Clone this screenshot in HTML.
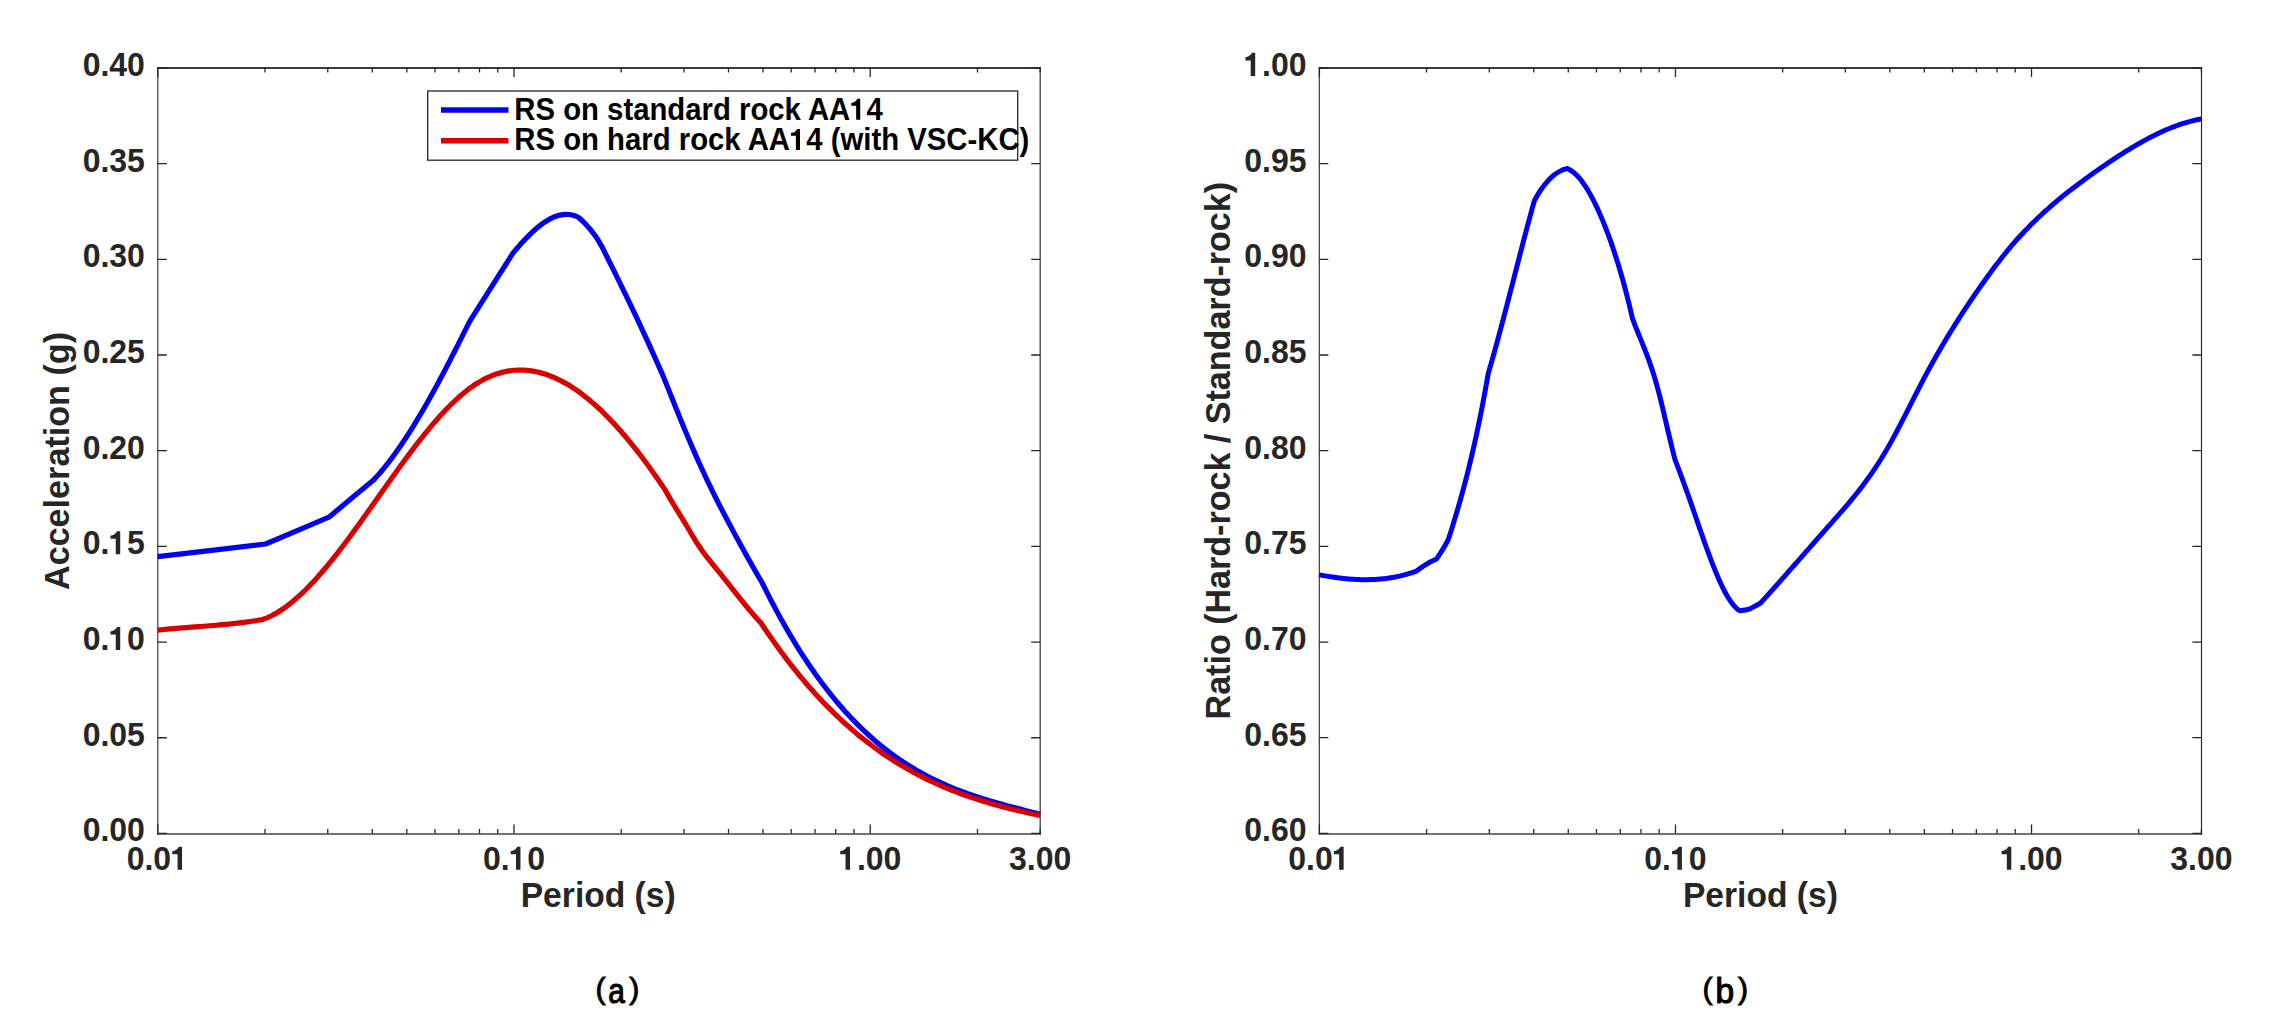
<!DOCTYPE html>
<html><head><meta charset="utf-8"><title>Response spectra</title><style>
html,body{margin:0;padding:0;background:#fff;overflow:hidden;}
svg{display:block;}
text{font-family:"Liberation Sans",sans-serif;}
.tk{font-weight:bold;font-size:33.4px;fill:#262626;}
.lb{font-weight:bold;font-size:35.5px;fill:#262626;}
.lg{font-weight:bold;font-size:30.6px;fill:#000;}
.cp{font-weight:normal;fill:#000;stroke:#000;}
</style></head><body>
<svg width="2274" height="1036" viewBox="0 0 2274 1036">
<rect width="2274" height="1036" fill="#fff"/>
<path d="M157.27,68H1040.78" stroke="#3a3a3a" stroke-width="1.8" fill="none"/>
<path d="M157.27,834H1040.78" stroke="#444" stroke-width="1.6" fill="none"/>
<path d="M157.82,67.1V834.67" stroke="#262626" stroke-width="1.1" fill="none"/>
<path d="M1040.18,67.1V834.67" stroke="#262626" stroke-width="1.15" fill="none"/>
<path d="M157.80,833.4v-9M157.80,68.0v9M265.03,833.4v-4.5M265.03,68.0v4.5M327.76,833.4v-4.5M327.76,68.0v4.5M372.27,833.4v-4.5M372.27,68.0v4.5M406.79,833.4v-4.5M406.79,68.0v4.5M434.99,833.4v-4.5M434.99,68.0v4.5M458.84,833.4v-4.5M458.84,68.0v4.5M479.50,833.4v-4.5M479.50,68.0v4.5M497.72,833.4v-4.5M497.72,68.0v4.5M514.02,833.4v-9M514.02,68.0v9M621.25,833.4v-4.5M621.25,68.0v4.5M683.98,833.4v-4.5M683.98,68.0v4.5M728.49,833.4v-4.5M728.49,68.0v4.5M763.01,833.4v-4.5M763.01,68.0v4.5M791.21,833.4v-4.5M791.21,68.0v4.5M815.06,833.4v-4.5M815.06,68.0v4.5M835.72,833.4v-4.5M835.72,68.0v4.5M853.94,833.4v-4.5M853.94,68.0v4.5M870.24,833.4v-9M870.24,68.0v9M977.47,833.4v-4.5M977.47,68.0v4.5M1040.20,833.4v-4.5M1040.20,68.0v4.5M157.8,833.40h9M1040.2,833.40h-9M157.8,737.73h9M1040.2,737.73h-9M157.8,642.05h9M1040.2,642.05h-9M157.8,546.38h9M1040.2,546.38h-9M157.8,450.70h9M1040.2,450.70h-9M157.8,355.02h9M1040.2,355.02h-9M157.8,259.35h9M1040.2,259.35h-9M157.8,163.67h9M1040.2,163.67h-9M157.8,68.00h9M1040.2,68.00h-9" stroke="#262626" stroke-width="1.3" fill="none"/>
<g transform="translate(144.90,841.30) scale(0.958,1)"><text class="tk" text-anchor="end">0.00</text></g>
<g transform="translate(144.90,745.62) scale(0.958,1)"><text class="tk" text-anchor="end">0.05</text></g>
<g transform="translate(144.90,649.95) scale(0.958,1)"><text class="tk" text-anchor="end">0. 0</text><path transform="translate(-37.15,0.00) scale(0.03340,-0.03340)" d="M201,0H341V690H240C222,640 165,578 35,552V462H201Z" fill="rgb(38, 38, 38)"/></g>
<g transform="translate(144.90,554.27) scale(0.958,1)"><text class="tk" text-anchor="end">0. 5</text><path transform="translate(-37.15,0.00) scale(0.03340,-0.03340)" d="M201,0H341V690H240C222,640 165,578 35,552V462H201Z" fill="rgb(38, 38, 38)"/></g>
<g transform="translate(144.90,458.60) scale(0.958,1)"><text class="tk" text-anchor="end">0.20</text></g>
<g transform="translate(144.90,362.92) scale(0.958,1)"><text class="tk" text-anchor="end">0.25</text></g>
<g transform="translate(144.90,267.25) scale(0.958,1)"><text class="tk" text-anchor="end">0.30</text></g>
<g transform="translate(144.90,171.57) scale(0.958,1)"><text class="tk" text-anchor="end">0.35</text></g>
<g transform="translate(144.90,75.90) scale(0.958,1)"><text class="tk" text-anchor="end">0.40</text></g>
<g transform="translate(157.80,869.80) scale(0.958,1)"><text class="tk" text-anchor="middle">0.0 </text><path transform="translate(13.91,0.00) scale(0.03340,-0.03340)" d="M201,0H341V690H240C222,640 165,578 35,552V462H201Z" fill="rgb(38, 38, 38)"/></g>
<g transform="translate(514.02,869.80) scale(0.958,1)"><text class="tk" text-anchor="middle">0. 0</text><path transform="translate(-4.66,0.00) scale(0.03340,-0.03340)" d="M201,0H341V690H240C222,640 165,578 35,552V462H201Z" fill="rgb(38, 38, 38)"/></g>
<g transform="translate(870.24,869.80) scale(0.958,1)"><text class="tk" text-anchor="middle"> .00</text><path transform="translate(-32.49,0.00) scale(0.03340,-0.03340)" d="M201,0H341V690H240C222,640 165,578 35,552V462H201Z" fill="rgb(38, 38, 38)"/></g>
<g transform="translate(1040.20,869.80) scale(0.958,1)"><text class="tk" text-anchor="middle">3.00</text></g>
<path d="M157.80,556.60C175.77,554.50 247.63,546.10 265.60,544.00C276.15,539.53 318.35,521.67 328.90,517.20C336.35,511.00 366.15,486.20 373.60,480.00C374.10,479.46 375.60,477.86 376.60,476.76C377.60,475.65 378.61,474.52 379.61,473.37C380.61,472.21 381.61,471.04 382.61,469.83C383.61,468.63 384.61,467.40 385.61,466.16C386.61,464.91 387.61,463.63 388.62,462.34C389.62,461.05 390.62,459.73 391.62,458.39C392.62,457.05 393.62,455.69 394.62,454.31C395.62,452.93 396.62,451.52 397.62,450.10C398.63,448.68 399.63,447.23 400.63,445.77C401.63,444.31 402.63,442.82 403.63,441.32C404.63,439.82 405.63,438.30 406.63,436.76C407.64,435.22 408.64,433.66 409.64,432.08C410.64,430.51 411.64,428.91 412.64,427.30C413.64,425.69 414.64,424.06 415.64,422.42C416.64,420.77 417.65,419.11 418.65,417.43C419.65,415.75 420.65,414.06 421.65,412.35C422.65,410.64 423.65,408.92 424.65,407.18C425.65,405.44 426.66,403.69 427.66,401.92C428.66,400.16 429.66,398.37 430.66,396.58C431.66,394.79 432.66,392.98 433.66,391.16C434.66,389.34 435.66,387.50 436.67,385.66C437.67,383.82 438.67,381.96 439.67,380.09C440.67,378.22 441.67,376.34 442.67,374.45C443.67,372.56 444.67,370.66 445.68,368.75C446.68,366.84 447.68,364.92 448.68,362.99C449.68,361.06 450.68,359.12 451.68,357.17C452.68,355.22 453.68,353.27 454.68,351.30C455.69,349.34 456.69,347.36 457.69,345.38C458.69,343.40 459.69,341.41 460.69,339.42C461.69,337.42 462.69,335.42 463.69,333.41C464.69,331.41 465.70,329.39 466.70,327.37C467.70,325.35 469.20,322.31 469.70,321.30C476.97,309.85 506.03,264.05 513.30,252.60C513.82,252.00 515.37,250.19 516.40,249.01C517.44,247.83 518.47,246.65 519.51,245.50C520.54,244.35 521.58,243.21 522.61,242.09C523.65,240.97 524.68,239.87 525.72,238.79C526.75,237.71 527.79,236.66 528.82,235.63C529.86,234.60 530.89,233.59 531.93,232.61C532.96,231.64 534.00,230.68 535.03,229.77C536.07,228.85 537.10,227.96 538.14,227.10C539.17,226.25 540.21,225.43 541.24,224.65C542.28,223.86 543.31,223.11 544.35,222.41C545.38,221.70 546.42,221.03 547.45,220.41C548.49,219.78 549.52,219.20 550.56,218.66C551.59,218.12 552.63,217.63 553.66,217.19C554.70,216.74 555.73,216.35 556.77,216.00C557.80,215.66 558.84,215.36 559.87,215.13C560.91,214.89 561.94,214.70 562.98,214.57C564.01,214.45 565.05,214.37 566.08,214.37C567.12,214.36 568.15,214.40 569.19,214.52C570.22,214.63 571.26,214.80 572.29,215.04C573.33,215.29 574.36,215.59 575.40,215.97C576.43,216.34 577.98,217.08 578.50,217.30C579.06,217.83 580.76,219.38 581.89,220.46C583.01,221.55 584.14,222.65 585.27,223.81C586.40,224.98 587.53,226.18 588.66,227.46C589.79,228.75 590.91,230.08 592.04,231.52C593.17,232.96 594.30,234.46 595.43,236.09C596.56,237.72 597.69,239.43 598.81,241.28C599.94,243.13 601.64,246.21 602.20,247.20C602.71,248.22 604.24,251.29 605.27,253.33C606.29,255.38 607.31,257.43 608.33,259.49C609.35,261.54 610.37,263.60 611.39,265.66C612.42,267.72 613.44,269.79 614.46,271.86C615.48,273.93 616.50,276.01 617.53,278.09C618.55,280.17 619.57,282.25 620.59,284.35C621.61,286.44 622.63,288.54 623.65,290.64C624.68,292.74 625.70,294.85 626.72,296.97C627.74,299.09 628.76,301.21 629.79,303.34C630.81,305.47 631.83,307.61 632.85,309.75C633.87,311.90 634.89,314.05 635.91,316.21C636.94,318.37 637.96,320.54 638.98,322.72C640.00,324.90 641.02,327.08 642.05,329.28C643.07,331.47 644.09,333.68 645.11,335.89C646.13,338.11 647.15,340.33 648.17,342.56C649.20,344.80 650.22,347.04 651.24,349.30C652.26,351.55 653.28,353.82 654.31,356.09C655.33,358.37 656.35,360.66 657.37,362.96C658.39,365.26 659.41,367.57 660.43,369.89C661.46,372.22 662.99,375.73 663.50,376.90C664.01,378.19 665.56,382.06 666.59,384.64C667.62,387.22 668.65,389.80 669.67,392.37C670.70,394.95 671.73,397.52 672.76,400.08C673.79,402.64 674.82,405.20 675.85,407.75C676.88,410.30 677.91,412.84 678.94,415.36C679.97,417.89 681.00,420.41 682.02,422.91C683.05,425.41 684.08,427.90 685.11,430.37C686.14,432.84 687.17,435.30 688.20,437.74C689.23,440.17 690.26,442.59 691.29,444.99C692.32,447.39 693.35,449.77 694.38,452.12C695.40,454.48 696.43,456.81 697.46,459.12C698.49,461.43 699.52,463.72 700.55,465.98C701.58,468.24 702.61,470.48 703.64,472.69C704.67,474.91 705.70,477.10 706.73,479.27C707.75,481.44 708.78,483.58 709.81,485.71C710.84,487.83 711.87,489.93 712.90,492.02C713.93,494.11 714.96,496.17 715.99,498.22C717.02,500.27 718.05,502.30 719.07,504.32C720.10,506.34 721.13,508.34 722.16,510.32C723.19,512.31 724.22,514.28 725.25,516.25C726.28,518.21 727.31,520.16 728.34,522.09C729.37,524.03 730.40,525.96 731.42,527.88C732.45,529.80 733.48,531.71 734.51,533.61C735.54,535.52 736.57,537.41 737.60,539.30C738.63,541.19 739.66,543.08 740.69,544.95C741.72,546.83 742.75,548.70 743.77,550.56C744.80,552.42 745.83,554.27 746.86,556.12C747.89,557.96 748.92,559.79 749.95,561.62C750.98,563.44 752.01,565.26 753.04,567.07C754.07,568.87 755.10,570.67 756.12,572.45C757.15,574.23 758.18,576.00 759.21,577.76C760.24,579.52 761.79,582.13 762.30,583.00C762.80,584.02 764.31,587.09 765.32,589.11C766.33,591.13 767.33,593.13 768.34,595.11C769.35,597.08 770.36,599.04 771.36,600.98C772.37,602.92 773.38,604.84 774.38,606.74C775.39,608.64 776.40,610.52 777.40,612.39C778.41,614.25 779.42,616.09 780.42,617.92C781.43,619.74 782.44,621.54 783.44,623.33C784.45,625.12 785.46,626.89 786.47,628.63C787.47,630.38 788.48,632.11 789.49,633.83C790.49,635.54 791.50,637.23 792.51,638.91C793.51,640.59 794.52,642.25 795.53,643.89C796.53,645.53 797.54,647.15 798.55,648.76C799.55,650.36 800.56,651.95 801.57,653.52C802.58,655.09 803.58,656.64 804.59,658.18C805.60,659.72 806.60,661.23 807.61,662.74C808.62,664.24 809.62,665.72 810.63,667.19C811.64,668.66 812.64,670.11 813.65,671.55C814.66,672.99 815.66,674.40 816.67,675.81C817.68,677.21 818.69,678.60 819.69,679.97C820.70,681.34 821.71,682.70 822.71,684.04C823.72,685.37 824.73,686.70 825.73,688.01C826.74,689.31 827.75,690.61 828.75,691.89C829.76,693.16 830.77,694.42 831.77,695.67C832.78,696.92 833.79,698.15 834.80,699.37C835.80,700.59 836.81,701.79 837.82,702.98C838.82,704.17 839.83,705.34 840.84,706.50C841.84,707.66 842.85,708.80 843.86,709.93C844.86,711.06 845.87,712.18 846.88,713.28C847.89,714.39 848.89,715.47 849.90,716.55C850.91,717.62 851.91,718.69 852.92,719.73C853.93,720.78 854.93,721.82 855.94,722.84C856.95,723.86 857.95,724.87 858.96,725.86C859.97,726.86 860.97,727.84 861.98,728.81C862.99,729.78 864.00,730.74 865.00,731.68C866.01,732.63 867.02,733.56 868.02,734.48C869.03,735.40 870.04,736.30 871.04,737.20C872.05,738.10 873.06,738.98 874.06,739.85C875.07,740.72 876.08,741.58 877.08,742.43C878.09,743.28 879.10,744.11 880.11,744.94C881.11,745.76 882.12,746.58 883.13,747.38C884.13,748.18 885.14,748.97 886.15,749.75C887.15,750.53 888.16,751.30 889.17,752.06C890.17,752.82 891.18,753.57 892.19,754.31C893.19,755.04 894.20,755.77 895.21,756.49C896.22,757.21 897.22,757.91 898.23,758.61C899.24,759.31 900.24,759.99 901.25,760.67C902.26,761.35 903.26,762.01 904.27,762.67C905.28,763.33 906.28,763.98 907.29,764.62C908.30,765.25 909.31,765.88 910.31,766.50C911.32,767.13 912.33,767.74 913.33,768.34C914.34,768.94 915.35,769.53 916.35,770.12C917.36,770.71 918.37,771.28 919.37,771.85C920.38,772.42 921.39,772.98 922.39,773.53C923.40,774.08 924.41,774.62 925.42,775.16C926.42,775.69 927.43,776.22 928.44,776.74C929.44,777.26 930.45,777.77 931.46,778.28C932.46,778.78 933.47,779.28 934.48,779.77C935.48,780.26 936.49,780.74 937.50,781.22C938.50,781.69 939.51,782.16 940.52,782.62C941.53,783.08 942.53,783.54 943.54,783.99C944.55,784.43 945.55,784.87 946.56,785.31C947.57,785.75 948.57,786.17 949.58,786.60C950.59,787.02 951.59,787.44 952.60,787.85C953.61,788.26 954.61,788.66 955.62,789.06C956.63,789.46 957.64,789.86 958.64,790.24C959.65,790.63 960.66,791.01 961.66,791.39C962.67,791.77 963.68,792.14 964.68,792.51C965.69,792.88 966.70,793.24 967.70,793.60C968.71,793.95 969.72,794.31 970.73,794.66C971.73,795.00 972.74,795.35 973.75,795.69C974.75,796.03 975.76,796.36 976.77,796.69C977.77,797.03 978.78,797.35 979.79,797.68C980.79,798.00 981.80,798.32 982.81,798.63C983.81,798.95 984.82,799.26 985.83,799.57C986.84,799.88 987.84,800.19 988.85,800.49C989.86,800.79 990.86,801.09 991.87,801.39C992.88,801.68 993.88,801.98 994.89,802.27C995.90,802.56 996.90,802.85 997.91,803.13C998.92,803.42 999.92,803.70 1000.93,803.98C1001.94,804.26 1002.95,804.54 1003.95,804.82C1004.96,805.09 1005.97,805.37 1006.97,805.64C1007.98,805.91 1008.99,806.19 1009.99,806.45C1011.00,806.72 1012.01,806.99 1013.01,807.26C1014.02,807.53 1015.03,807.79 1016.03,808.06C1017.04,808.32 1018.05,808.58 1019.06,808.85C1020.06,809.11 1021.07,809.37 1022.08,809.63C1023.08,809.89 1024.09,810.15 1025.10,810.41C1026.10,810.67 1027.11,810.93 1028.12,811.19C1029.12,811.45 1030.13,811.71 1031.14,811.97C1032.14,812.23 1033.15,812.48 1034.16,812.74C1035.17,813.00 1036.17,813.26 1037.18,813.52C1038.19,813.78 1039.70,814.17 1040.20,814.30" fill="none" stroke="#0000f5" stroke-width="5.2" stroke-linejoin="round"/>
<path d="M157.80,630.10C158.31,630.05 159.85,629.89 160.88,629.79C161.91,629.68 162.94,629.58 163.96,629.49C164.99,629.39 166.02,629.29 167.05,629.20C168.07,629.10 169.10,629.01 170.13,628.92C171.16,628.83 172.18,628.74 173.21,628.65C174.24,628.56 175.27,628.48 176.29,628.39C177.32,628.31 178.35,628.22 179.38,628.14C180.40,628.06 181.43,627.98 182.46,627.90C183.49,627.81 184.51,627.73 185.54,627.65C186.57,627.57 187.60,627.50 188.62,627.42C189.65,627.34 190.68,627.26 191.71,627.18C192.73,627.10 193.76,627.02 194.79,626.95C195.82,626.87 196.84,626.79 197.87,626.71C198.90,626.63 199.93,626.55 200.95,626.48C201.98,626.40 203.01,626.32 204.04,626.24C205.06,626.16 206.09,626.08 207.12,625.99C208.15,625.91 209.17,625.83 210.20,625.74C211.23,625.66 212.25,625.58 213.28,625.49C214.31,625.40 215.34,625.32 216.36,625.23C217.39,625.14 218.42,625.05 219.45,624.96C220.47,624.86 221.50,624.77 222.53,624.67C223.56,624.58 224.58,624.48 225.61,624.38C226.64,624.28 227.67,624.18 228.69,624.07C229.72,623.97 230.75,623.86 231.78,623.75C232.80,623.64 233.83,623.53 234.86,623.42C235.89,623.30 236.91,623.18 237.94,623.06C238.97,622.94 240.00,622.82 241.02,622.69C242.05,622.57 243.08,622.44 244.11,622.30C245.13,622.17 246.16,622.04 247.19,621.90C248.22,621.76 249.24,621.61 250.27,621.46C251.30,621.32 252.33,621.17 253.35,621.01C254.38,620.85 255.41,620.70 256.44,620.53C257.46,620.37 258.49,620.20 259.52,620.03C260.55,619.86 262.09,619.59 262.60,619.50C263.10,619.32 264.60,618.82 265.60,618.43C266.60,618.04 267.61,617.61 268.61,617.16C269.61,616.71 270.61,616.23 271.61,615.73C272.61,615.23 273.61,614.70 274.61,614.14C275.62,613.59 276.62,613.01 277.62,612.41C278.62,611.80 279.62,611.18 280.62,610.53C281.62,609.88 282.62,609.20 283.63,608.50C284.63,607.81 285.63,607.08 286.63,606.34C287.63,605.60 288.63,604.83 289.63,604.05C290.63,603.26 291.64,602.45 292.64,601.63C293.64,600.80 294.64,599.95 295.64,599.08C296.64,598.21 297.64,597.32 298.64,596.41C299.65,595.50 300.65,594.58 301.65,593.63C302.65,592.68 303.65,591.72 304.65,590.74C305.65,589.75 306.65,588.75 307.66,587.74C308.66,586.72 309.66,585.68 310.66,584.63C311.66,583.58 312.66,582.52 313.66,581.43C314.66,580.35 315.67,579.25 316.67,578.14C317.67,577.03 318.67,575.90 319.67,574.75C320.67,573.61 321.67,572.46 322.67,571.29C323.68,570.12 324.68,568.93 325.68,567.74C326.68,566.54 327.68,565.33 328.68,564.11C329.68,562.89 330.68,561.66 331.69,560.41C332.69,559.17 333.69,557.91 334.69,556.65C335.69,555.38 336.69,554.11 337.69,552.82C338.69,551.54 339.70,550.24 340.70,548.93C341.70,547.63 342.70,546.32 343.70,544.99C344.70,543.67 345.70,542.34 346.70,541.00C347.71,539.66 348.71,538.32 349.71,536.97C350.71,535.61 351.71,534.25 352.71,532.89C353.71,531.52 354.71,530.15 355.72,528.77C356.72,527.40 357.72,526.01 358.72,524.63C359.72,523.24 360.72,521.85 361.72,520.45C362.72,519.05 363.73,517.65 364.73,516.25C365.73,514.85 366.73,513.44 367.73,512.03C368.73,510.62 369.73,509.21 370.73,507.80C371.74,506.38 372.74,504.97 373.74,503.55C374.74,502.14 375.74,500.72 376.74,499.30C377.74,497.88 378.74,496.47 379.75,495.05C380.75,493.63 381.75,492.21 382.75,490.80C383.75,489.38 384.75,487.97 385.75,486.55C386.75,485.14 387.76,483.73 388.76,482.32C389.76,480.91 390.76,479.51 391.76,478.10C392.76,476.70 393.76,475.30 394.76,473.91C395.77,472.51 396.77,471.12 397.77,469.73C398.77,468.35 399.77,466.96 400.77,465.59C401.77,464.21 402.77,462.84 403.78,461.48C404.78,460.11 405.78,458.75 406.78,457.40C407.78,456.05 408.78,454.71 409.78,453.37C410.78,452.03 411.79,450.70 412.79,449.38C413.79,448.06 414.79,446.75 415.79,445.45C416.79,444.14 417.79,442.85 418.79,441.57C419.80,440.28 420.80,439.01 421.80,437.74C422.80,436.48 423.80,435.23 424.80,433.99C425.80,432.74 426.80,431.51 427.81,430.30C428.81,429.08 429.81,427.87 430.81,426.68C431.81,425.48 432.81,424.30 433.81,423.14C434.81,421.97 435.82,420.81 436.82,419.67C437.82,418.54 438.82,417.41 439.82,416.30C440.82,415.19 441.82,414.09 442.82,413.01C443.83,411.93 444.83,410.87 445.83,409.82C446.83,408.78 447.83,407.74 448.83,406.73C449.83,405.72 450.83,404.72 451.84,403.74C452.84,402.76 453.84,401.80 454.84,400.86C455.84,399.91 456.84,398.99 457.84,398.09C458.84,397.18 459.85,396.30 460.85,395.43C461.85,394.56 462.85,393.72 463.85,392.90C464.85,392.07 465.85,391.27 466.85,390.48C467.85,389.70 468.86,388.94 469.86,388.20C470.86,387.47 471.86,386.75 472.86,386.06C473.86,385.36 474.86,384.69 475.86,384.05C476.87,383.40 477.87,382.78 478.87,382.18C479.87,381.58 480.87,381.00 481.87,380.44C482.87,379.89 483.87,379.36 484.88,378.85C485.88,378.34 486.88,377.86 487.88,377.39C488.88,376.93 489.88,376.49 490.88,376.07C491.88,375.65 492.89,375.26 493.89,374.89C494.89,374.51 495.89,374.16 496.89,373.83C497.89,373.50 498.89,373.19 499.89,372.91C500.90,372.62 501.90,372.36 502.90,372.12C503.90,371.87 504.90,371.65 505.90,371.45C506.90,371.25 507.90,371.08 508.91,370.92C509.91,370.76 510.91,370.63 511.91,370.51C512.91,370.40 513.91,370.30 514.91,370.23C515.91,370.16 516.92,370.11 517.92,370.07C518.92,370.04 519.92,370.03 520.92,370.04C521.92,370.05 522.92,370.08 523.92,370.13C524.93,370.18 525.93,370.25 526.93,370.34C527.93,370.43 528.93,370.54 529.93,370.67C530.93,370.80 531.93,370.95 532.94,371.11C533.94,371.28 534.94,371.47 535.94,371.68C536.94,371.89 537.94,372.11 538.94,372.36C539.94,372.61 540.95,372.87 541.95,373.16C542.95,373.44 543.95,373.74 544.95,374.07C545.95,374.39 546.95,374.73 547.95,375.09C548.96,375.45 549.96,375.83 550.96,376.22C551.96,376.62 552.96,377.03 553.96,377.47C554.96,377.90 555.96,378.35 556.97,378.82C557.97,379.29 558.97,379.78 559.97,380.28C560.97,380.78 561.97,381.31 562.97,381.85C563.97,382.39 564.98,382.94 565.98,383.52C566.98,384.09 567.98,384.69 568.98,385.30C569.98,385.90 570.98,386.53 571.98,387.17C572.99,387.82 573.99,388.48 574.99,389.16C575.99,389.83 576.99,390.53 577.99,391.24C578.99,391.95 579.99,392.67 581.00,393.42C582.00,394.16 583.00,394.92 584.00,395.70C585.00,396.47 586.00,397.26 587.00,398.07C588.00,398.88 589.01,399.70 590.01,400.54C591.01,401.38 592.01,402.24 593.01,403.11C594.01,403.98 595.01,404.87 596.01,405.77C597.02,406.67 598.02,407.59 599.02,408.52C600.02,409.45 601.02,410.40 602.02,411.36C603.02,412.33 604.02,413.30 605.03,414.30C606.03,415.29 607.03,416.29 608.03,417.32C609.03,418.34 610.03,419.37 611.03,420.42C612.03,421.47 613.04,422.54 614.04,423.62C615.04,424.70 616.04,425.79 617.04,426.90C618.04,428.00 619.04,429.12 620.04,430.26C621.05,431.39 622.05,432.54 623.05,433.70C624.05,434.86 625.05,436.04 626.05,437.23C627.05,438.42 628.05,439.62 629.06,440.84C630.06,442.05 631.06,443.28 632.06,444.52C633.06,445.76 634.06,447.02 635.06,448.28C636.06,449.55 637.07,450.83 638.07,452.12C639.07,453.41 640.07,454.72 641.07,456.04C642.07,457.35 643.07,458.68 644.07,460.03C645.08,461.37 646.08,462.72 647.08,464.09C648.08,465.45 649.08,466.83 650.08,468.22C651.08,469.61 652.08,471.01 653.09,472.42C654.09,473.84 655.09,475.26 656.09,476.70C657.09,478.13 658.09,479.58 659.09,481.04C660.09,482.49 661.10,483.97 662.10,485.44C663.10,486.92 664.60,489.16 665.10,489.90C665.62,490.82 667.16,493.60 668.19,495.39C669.22,497.18 670.26,498.93 671.29,500.66C672.32,502.38 673.35,504.07 674.38,505.76C675.41,507.45 676.44,509.11 677.47,510.78C678.51,512.45 679.54,514.10 680.57,515.77C681.60,517.45 682.63,519.12 683.66,520.82C684.69,522.53 685.72,524.25 686.75,525.99C687.79,527.72 688.82,529.49 689.85,531.24C690.88,532.99 691.91,534.76 692.94,536.48C693.97,538.19 695.00,539.91 696.04,541.55C697.07,543.19 698.10,544.77 699.13,546.30C700.16,547.84 701.19,549.31 702.22,550.75C703.25,552.20 704.28,553.59 705.32,554.96C706.35,556.33 707.38,557.65 708.41,558.97C709.44,560.28 710.47,561.57 711.50,562.84C712.53,564.12 713.57,565.38 714.60,566.64C715.63,567.90 716.66,569.15 717.69,570.41C718.72,571.67 719.75,572.93 720.78,574.20C721.82,575.48 722.85,576.77 723.88,578.06C724.91,579.35 725.94,580.65 726.97,581.95C728.00,583.25 729.03,584.56 730.06,585.87C731.10,587.17 732.13,588.49 733.16,589.79C734.19,591.10 735.22,592.41 736.25,593.71C737.28,595.02 738.31,596.32 739.35,597.61C740.38,598.91 741.41,600.20 742.44,601.48C743.47,602.75 744.50,604.03 745.53,605.29C746.56,606.54 747.59,607.79 748.63,609.03C749.66,610.26 750.69,611.48 751.72,612.68C752.75,613.89 753.78,615.08 754.81,616.24C755.84,617.41 756.88,618.56 757.91,619.69C758.94,620.81 760.48,622.45 761.00,623.00C761.50,623.75 763.00,626.01 764.00,627.50C765.00,628.99 766.00,630.48 767.00,631.95C768.01,633.42 769.01,634.87 770.01,636.32C771.01,637.76 772.01,639.20 773.01,640.62C774.01,642.04 775.01,643.44 776.01,644.84C777.01,646.24 778.01,647.62 779.01,648.99C780.01,650.36 781.01,651.72 782.02,653.07C783.02,654.42 784.02,655.76 785.02,657.08C786.02,658.41 787.02,659.72 788.02,661.02C789.02,662.32 790.02,663.61 791.02,664.89C792.02,666.17 793.02,667.43 794.02,668.69C795.02,669.95 796.03,671.19 797.03,672.42C798.03,673.66 799.03,674.88 800.03,676.09C801.03,677.30 802.03,678.50 803.03,679.69C804.03,680.87 805.03,682.05 806.03,683.22C807.03,684.39 808.03,685.54 809.03,686.69C810.04,687.83 811.04,688.97 812.04,690.09C813.04,691.21 814.04,692.33 815.04,693.43C816.04,694.53 817.04,695.63 818.04,696.71C819.04,697.79 820.04,698.86 821.04,699.92C822.04,700.98 823.04,702.03 824.05,703.07C825.05,704.12 826.05,705.15 827.05,706.17C828.05,707.19 829.05,708.20 830.05,709.20C831.05,710.20 832.05,711.19 833.05,712.17C834.05,713.15 835.05,714.13 836.05,715.09C837.05,716.05 838.06,717.00 839.06,717.94C840.06,718.89 841.06,719.82 842.06,720.74C843.06,721.67 844.06,722.58 845.06,723.49C846.06,724.39 847.06,725.29 848.06,726.17C849.06,727.06 850.06,727.94 851.06,728.81C852.07,729.67 853.07,730.53 854.07,731.38C855.07,732.23 856.07,733.08 857.07,733.91C858.07,734.74 859.07,735.56 860.07,736.38C861.07,737.20 862.07,738.00 863.07,738.80C864.07,739.60 865.07,740.39 866.08,741.17C867.08,741.95 868.08,742.72 869.08,743.49C870.08,744.25 871.08,745.01 872.08,745.75C873.08,746.50 874.08,747.24 875.08,747.97C876.08,748.70 877.08,749.43 878.08,750.14C879.08,750.86 880.09,751.57 881.09,752.26C882.09,752.96 883.09,753.66 884.09,754.34C885.09,755.02 886.09,755.70 887.09,756.37C888.09,757.04 889.09,757.70 890.09,758.35C891.09,759.01 892.09,759.65 893.09,760.29C894.10,760.93 895.10,761.56 896.10,762.19C897.10,762.81 898.10,763.43 899.10,764.04C900.10,764.65 901.10,765.25 902.10,765.85C903.10,766.44 904.10,767.03 905.10,767.61C906.10,768.20 907.10,768.77 908.11,769.34C909.11,769.91 910.11,770.47 911.11,771.03C912.11,771.58 913.11,772.13 914.11,772.67C915.11,773.21 916.11,773.75 917.11,774.28C918.11,774.81 919.11,775.33 920.11,775.85C921.11,776.36 922.12,776.87 923.12,777.38C924.12,777.88 925.12,778.38 926.12,778.87C927.12,779.36 928.12,779.85 929.12,780.33C930.12,780.81 931.12,781.28 932.12,781.75C933.12,782.22 934.12,782.68 935.12,783.14C936.13,783.59 937.13,784.05 938.13,784.49C939.13,784.94 940.13,785.38 941.13,785.81C942.13,786.25 943.13,786.68 944.13,787.10C945.13,787.52 946.13,787.94 947.13,788.36C948.13,788.77 949.13,789.18 950.14,789.58C951.14,789.98 952.14,790.38 953.14,790.78C954.14,791.17 955.14,791.56 956.14,791.94C957.14,792.32 958.14,792.70 959.14,793.08C960.14,793.45 961.14,793.82 962.14,794.19C963.14,794.55 964.15,794.91 965.15,795.27C966.15,795.62 967.15,795.97 968.15,796.32C969.15,796.67 970.15,797.01 971.15,797.35C972.15,797.69 973.15,798.02 974.15,798.35C975.15,798.68 976.15,799.01 977.15,799.33C978.16,799.65 979.16,799.97 980.16,800.29C981.16,800.60 982.16,800.91 983.16,801.22C984.16,801.52 985.16,801.83 986.16,802.13C987.16,802.43 988.16,802.72 989.16,803.01C990.16,803.31 991.16,803.59 992.17,803.88C993.17,804.17 994.17,804.45 995.17,804.73C996.17,805.01 997.17,805.28 998.17,805.55C999.17,805.83 1000.17,806.10 1001.17,806.36C1002.17,806.63 1003.17,806.89 1004.17,807.15C1005.17,807.41 1006.18,807.67 1007.18,807.93C1008.18,808.18 1009.18,808.43 1010.18,808.68C1011.18,808.93 1012.18,809.18 1013.18,809.42C1014.18,809.67 1015.18,809.91 1016.18,810.15C1017.18,810.39 1018.18,810.63 1019.18,810.86C1020.19,811.10 1021.19,811.33 1022.19,811.56C1023.19,811.79 1024.19,812.02 1025.19,812.24C1026.19,812.47 1027.19,812.69 1028.19,812.92C1029.19,813.14 1030.19,813.36 1031.19,813.58C1032.19,813.80 1033.19,814.01 1034.20,814.23C1035.20,814.44 1036.20,814.66 1037.20,814.87C1038.20,815.08 1039.70,815.39 1040.20,815.50" fill="none" stroke="#d90000" stroke-width="5.2" stroke-linejoin="round"/>
<rect x="427.7" y="91" width="590" height="69.2" fill="#fff" stroke="#262626" stroke-width="1.3"/>
<path d="M441,110h67.5" stroke="#0000f5" stroke-width="5.6"/>
<path d="M441,140.8h67.5" stroke="#d90000" stroke-width="5.6"/>
<g transform="translate(514.30,119.80) scale(0.958,1)"><text class="lg" text-anchor="start">RS on standard rock AA 4</text><path transform="translate(350.69,0.00) scale(0.03060,-0.03060)" d="M201,0H341V690H240C222,640 165,578 35,552V462H201Z" fill="rgb(0, 0, 0)"/></g>
<g transform="translate(514.30,150.00) scale(0.958,1)"><text class="lg" text-anchor="start">RS on hard rock AA 4 (with VSC-KC)</text><path transform="translate(287.79,0.00) scale(0.03060,-0.03060)" d="M201,0H341V690H240C222,640 165,578 35,552V462H201Z" fill="rgb(0, 0, 0)"/></g>
<g transform="translate(598.20,906.60) scale(0.947,1)"><text class="lb" text-anchor="middle">Period (s)</text></g>
<g transform="translate(68.80,461.00) rotate(-90) scale(0.962,1)"><text class="lb" text-anchor="middle">Acceleration (g)</text></g>
<path d="M1318.75,68H2202.10" stroke="#3a3a3a" stroke-width="1.8" fill="none"/>
<path d="M1318.75,834H2202.10" stroke="#444" stroke-width="1.6" fill="none"/>
<path d="M1319.30,67.1V834.67" stroke="#262626" stroke-width="1.1" fill="none"/>
<path d="M2201.50,67.1V834.67" stroke="#262626" stroke-width="1.15" fill="none"/>
<path d="M1319.40,833.4v-9M1319.40,68.0v9M1426.58,833.4v-4.5M1426.58,68.0v4.5M1489.28,833.4v-4.5M1489.28,68.0v4.5M1533.77,833.4v-4.5M1533.77,68.0v4.5M1568.27,833.4v-4.5M1568.27,68.0v4.5M1596.47,833.4v-4.5M1596.47,68.0v4.5M1620.30,833.4v-4.5M1620.30,68.0v4.5M1640.95,833.4v-4.5M1640.95,68.0v4.5M1659.17,833.4v-4.5M1659.17,68.0v4.5M1675.46,833.4v-9M1675.46,68.0v9M1782.64,833.4v-4.5M1782.64,68.0v4.5M1845.34,833.4v-4.5M1845.34,68.0v4.5M1889.83,833.4v-4.5M1889.83,68.0v4.5M1924.33,833.4v-4.5M1924.33,68.0v4.5M1952.53,833.4v-4.5M1952.53,68.0v4.5M1976.36,833.4v-4.5M1976.36,68.0v4.5M1997.01,833.4v-4.5M1997.01,68.0v4.5M2015.22,833.4v-4.5M2015.22,68.0v4.5M2031.52,833.4v-9M2031.52,68.0v9M2138.70,833.4v-4.5M2138.70,68.0v4.5M2201.40,833.4v-4.5M2201.40,68.0v4.5M1319.4,833.40h9M2201.4,833.40h-9M1319.4,737.72h9M2201.4,737.72h-9M1319.4,642.05h9M2201.4,642.05h-9M1319.4,546.38h9M2201.4,546.38h-9M1319.4,450.70h9M2201.4,450.70h-9M1319.4,355.02h9M2201.4,355.02h-9M1319.4,259.35h9M2201.4,259.35h-9M1319.4,163.68h9M2201.4,163.68h-9M1319.4,68.00h9M2201.4,68.00h-9" stroke="#262626" stroke-width="1.3" fill="none"/>
<g transform="translate(1306.50,841.30) scale(0.958,1)"><text class="tk" text-anchor="end">0.60</text></g>
<g transform="translate(1306.50,745.62) scale(0.958,1)"><text class="tk" text-anchor="end">0.65</text></g>
<g transform="translate(1306.50,649.95) scale(0.958,1)"><text class="tk" text-anchor="end">0.70</text></g>
<g transform="translate(1306.50,554.27) scale(0.958,1)"><text class="tk" text-anchor="end">0.75</text></g>
<g transform="translate(1306.50,458.60) scale(0.958,1)"><text class="tk" text-anchor="end">0.80</text></g>
<g transform="translate(1306.50,362.92) scale(0.958,1)"><text class="tk" text-anchor="end">0.85</text></g>
<g transform="translate(1306.50,267.25) scale(0.958,1)"><text class="tk" text-anchor="end">0.90</text></g>
<g transform="translate(1306.50,171.58) scale(0.958,1)"><text class="tk" text-anchor="end">0.95</text></g>
<g transform="translate(1306.50,75.90) scale(0.958,1)"><text class="tk" text-anchor="end"> .00</text><path transform="translate(-64.97,0.00) scale(0.03340,-0.03340)" d="M201,0H341V690H240C222,640 165,578 35,552V462H201Z" fill="rgb(38, 38, 38)"/></g>
<g transform="translate(1319.40,869.80) scale(0.958,1)"><text class="tk" text-anchor="middle">0.0 </text><path transform="translate(13.91,0.00) scale(0.03340,-0.03340)" d="M201,0H341V690H240C222,640 165,578 35,552V462H201Z" fill="rgb(38, 38, 38)"/></g>
<g transform="translate(1675.46,869.80) scale(0.958,1)"><text class="tk" text-anchor="middle">0. 0</text><path transform="translate(-4.66,0.00) scale(0.03340,-0.03340)" d="M201,0H341V690H240C222,640 165,578 35,552V462H201Z" fill="rgb(38, 38, 38)"/></g>
<g transform="translate(2031.52,869.80) scale(0.958,1)"><text class="tk" text-anchor="middle"> .00</text><path transform="translate(-32.49,0.00) scale(0.03340,-0.03340)" d="M201,0H341V690H240C222,640 165,578 35,552V462H201Z" fill="rgb(38, 38, 38)"/></g>
<g transform="translate(2201.40,869.80) scale(0.958,1)"><text class="tk" text-anchor="middle">3.00</text></g>
<path d="M1319.10,574.80C1319.61,574.89 1321.13,575.17 1322.15,575.35C1323.16,575.53 1324.18,575.71 1325.19,575.88C1326.21,576.05 1327.22,576.22 1328.24,576.38C1329.26,576.54 1330.27,576.70 1331.29,576.85C1332.30,577.00 1333.32,577.15 1334.33,577.29C1335.35,577.44 1336.37,577.57 1337.38,577.71C1338.40,577.84 1339.41,577.96 1340.43,578.08C1341.44,578.20 1342.46,578.32 1343.47,578.43C1344.49,578.54 1345.51,578.64 1346.52,578.73C1347.54,578.83 1348.55,578.92 1349.57,579.00C1350.58,579.08 1351.60,579.16 1352.62,579.22C1353.63,579.29 1354.65,579.35 1355.66,579.41C1356.68,579.46 1357.69,579.50 1358.71,579.54C1359.72,579.58 1360.74,579.61 1361.76,579.63C1362.77,579.65 1363.79,579.67 1364.80,579.67C1365.82,579.68 1366.83,579.67 1367.85,579.66C1368.87,579.65 1369.88,579.63 1370.90,579.60C1371.91,579.57 1372.93,579.53 1373.94,579.48C1374.96,579.43 1375.97,579.37 1376.99,579.31C1378.01,579.24 1379.02,579.16 1380.04,579.07C1381.05,578.99 1382.07,578.89 1383.08,578.78C1384.10,578.67 1385.12,578.55 1386.13,578.42C1387.15,578.29 1388.16,578.15 1389.18,578.00C1390.19,577.85 1391.21,577.69 1392.22,577.52C1393.24,577.34 1394.26,577.16 1395.27,576.96C1396.29,576.76 1397.30,576.56 1398.32,576.34C1399.33,576.12 1400.35,575.88 1401.37,575.64C1402.38,575.39 1403.40,575.14 1404.41,574.87C1405.43,574.60 1406.44,574.31 1407.46,574.02C1408.47,573.72 1409.49,573.42 1410.51,573.09C1411.52,572.77 1412.54,572.44 1413.55,572.09C1414.57,571.74 1416.09,571.18 1416.60,571.00C1417.50,570.35 1420.08,568.40 1422.00,567.10C1423.92,565.80 1425.67,564.55 1428.10,563.20C1430.53,561.85 1435.18,559.70 1436.60,559.00C1437.68,557.32 1441.15,552.13 1443.10,548.90C1445.05,545.67 1447.43,541.15 1448.30,539.60C1448.81,537.99 1450.35,533.20 1451.38,529.93C1452.40,526.66 1453.43,523.36 1454.45,519.98C1455.48,516.61 1456.51,513.18 1457.53,509.68C1458.56,506.18 1459.58,502.62 1460.61,498.96C1461.63,495.31 1462.66,491.59 1463.68,487.77C1464.71,483.95 1465.74,480.04 1466.76,476.03C1467.79,472.02 1468.81,467.91 1469.84,463.69C1470.86,459.46 1471.89,455.13 1472.92,450.67C1473.94,446.21 1474.97,441.64 1475.99,436.92C1477.02,432.21 1478.04,427.37 1479.07,422.37C1480.09,417.38 1481.12,412.26 1482.15,406.96C1483.17,401.67 1484.20,396.24 1485.22,390.63C1486.25,385.02 1487.79,376.19 1488.30,373.30C1488.81,371.53 1490.35,366.28 1491.37,362.69C1492.40,359.10 1493.42,355.46 1494.45,351.77C1495.47,348.09 1496.50,344.35 1497.52,340.58C1498.54,336.82 1499.57,333.01 1500.59,329.17C1501.62,325.33 1502.64,321.46 1503.67,317.57C1504.69,313.68 1505.72,309.76 1506.74,305.83C1507.76,301.90 1508.79,297.94 1509.81,293.99C1510.84,290.03 1511.86,286.05 1512.89,282.08C1513.91,278.11 1514.94,274.13 1515.96,270.16C1516.98,266.19 1518.01,262.22 1519.03,258.26C1520.06,254.31 1521.08,250.36 1522.11,246.43C1523.13,242.51 1524.16,238.59 1525.18,234.71C1526.20,230.83 1527.23,226.96 1528.25,223.13C1529.28,219.31 1530.30,215.51 1531.33,211.75C1532.35,208.00 1533.89,202.46 1534.40,200.60C1534.95,199.64 1536.59,196.67 1537.68,194.86C1538.77,193.05 1539.87,191.35 1540.96,189.74C1542.05,188.14 1543.15,186.64 1544.24,185.23C1545.33,183.83 1546.43,182.52 1547.52,181.30C1548.61,180.09 1549.71,178.96 1550.80,177.93C1551.89,176.89 1552.99,175.94 1554.08,175.08C1555.17,174.21 1556.27,173.44 1557.36,172.74C1558.45,172.04 1559.55,171.42 1560.64,170.88C1561.73,170.33 1562.83,169.87 1563.92,169.47C1565.01,169.08 1566.65,168.66 1567.20,168.50C1567.72,168.76 1569.27,169.46 1570.30,170.09C1571.34,170.72 1572.37,171.46 1573.41,172.29C1574.44,173.12 1575.48,174.06 1576.51,175.09C1577.55,176.12 1578.58,177.26 1579.62,178.48C1580.65,179.70 1581.69,181.03 1582.72,182.44C1583.76,183.85 1584.79,185.36 1585.83,186.96C1586.86,188.55 1587.90,190.24 1588.93,192.02C1589.97,193.79 1591.00,195.66 1592.04,197.61C1593.07,199.55 1594.11,201.59 1595.14,203.71C1596.18,205.82 1597.21,208.03 1598.25,210.31C1599.28,212.59 1600.32,214.95 1601.35,217.39C1602.39,219.83 1603.42,222.35 1604.46,224.95C1605.49,227.54 1606.53,230.21 1607.56,232.96C1608.60,235.72 1609.63,238.54 1610.67,241.46C1611.70,244.38 1612.74,247.38 1613.77,250.48C1614.81,253.58 1615.84,256.77 1616.88,260.06C1617.91,263.35 1618.95,266.73 1619.98,270.23C1621.02,273.73 1622.05,277.32 1623.09,281.06C1624.12,284.79 1625.16,288.62 1626.19,292.61C1627.23,296.60 1628.26,300.71 1629.30,305.00C1630.33,309.28 1631.88,316.08 1632.40,318.30C1632.91,319.64 1634.43,323.71 1635.45,326.32C1636.47,328.92 1637.48,331.42 1638.50,333.94C1639.52,336.45 1640.53,338.90 1641.55,341.41C1642.57,343.92 1643.58,346.40 1644.60,348.98C1645.62,351.56 1646.63,354.15 1647.65,356.88C1648.67,359.61 1649.68,362.40 1650.70,365.37C1651.72,368.33 1652.73,371.40 1653.75,374.68C1654.77,377.96 1655.78,381.40 1656.80,385.06C1657.82,388.72 1658.83,392.63 1659.85,396.65C1660.87,400.66 1661.88,404.90 1662.90,409.15C1663.92,413.40 1664.93,417.80 1665.95,422.14C1666.97,426.48 1667.98,430.90 1669.00,435.19C1670.02,439.48 1671.03,443.79 1672.05,447.89C1673.07,451.99 1674.59,457.81 1675.10,459.80C1675.61,461.16 1677.16,465.20 1678.19,467.94C1679.21,470.67 1680.24,473.43 1681.27,476.21C1682.30,478.99 1683.33,481.80 1684.36,484.63C1685.39,487.46 1686.41,490.32 1687.44,493.21C1688.47,496.09 1689.50,499.01 1690.53,501.94C1691.56,504.87 1692.59,507.83 1693.61,510.80C1694.64,513.77 1695.67,516.76 1696.70,519.74C1697.73,522.72 1698.76,525.72 1699.79,528.68C1700.81,531.65 1701.84,534.62 1702.87,537.55C1703.90,540.47 1704.93,543.39 1705.96,546.25C1706.99,549.11 1708.01,551.95 1709.04,554.72C1710.07,557.49 1711.10,560.23 1712.13,562.88C1713.16,565.54 1714.19,568.14 1715.21,570.66C1716.24,573.18 1717.27,575.63 1718.30,577.99C1719.33,580.34 1720.36,582.62 1721.39,584.79C1722.41,586.96 1723.44,589.05 1724.47,591.01C1725.50,592.97 1726.53,594.83 1727.56,596.55C1728.59,598.28 1729.61,599.90 1730.64,601.37C1731.67,602.84 1732.70,604.19 1733.73,605.38C1734.76,606.57 1735.79,607.62 1736.81,608.51C1737.84,609.40 1739.39,610.34 1739.90,610.70C1741.58,610.38 1746.55,610.08 1750.00,608.80C1753.45,607.52 1758.83,603.97 1760.60,603.00C1761.10,602.45 1762.61,600.79 1763.62,599.67C1764.63,598.56 1765.63,597.45 1766.64,596.33C1767.64,595.21 1768.65,594.09 1769.66,592.97C1770.66,591.85 1771.67,590.73 1772.68,589.60C1773.68,588.48 1774.69,587.35 1775.70,586.22C1776.70,585.09 1777.71,583.96 1778.72,582.82C1779.72,581.69 1780.73,580.56 1781.73,579.42C1782.74,578.28 1783.75,577.15 1784.75,576.01C1785.76,574.87 1786.77,573.73 1787.77,572.59C1788.78,571.45 1789.79,570.30 1790.79,569.16C1791.80,568.02 1792.80,566.87 1793.81,565.73C1794.82,564.58 1795.82,563.44 1796.83,562.29C1797.84,561.15 1798.84,560.00 1799.85,558.85C1800.86,557.70 1801.86,556.56 1802.87,555.41C1803.87,554.26 1804.88,553.12 1805.89,551.97C1806.89,550.82 1807.90,549.67 1808.91,548.53C1809.91,547.38 1810.92,546.23 1811.93,545.09C1812.93,543.94 1813.94,542.79 1814.95,541.65C1815.95,540.50 1816.96,539.36 1817.96,538.22C1818.97,537.07 1819.98,535.93 1820.98,534.79C1821.99,533.65 1823.00,532.50 1824.00,531.36C1825.01,530.23 1826.02,529.09 1827.02,527.95C1828.03,526.81 1829.03,525.68 1830.04,524.54C1831.05,523.41 1832.05,522.27 1833.06,521.14C1834.07,520.00 1835.07,518.86 1836.08,517.72C1837.09,516.58 1838.09,515.44 1839.10,514.29C1840.11,513.14 1841.11,511.99 1842.12,510.83C1843.12,509.66 1844.13,508.50 1845.14,507.32C1846.14,506.15 1847.15,504.97 1848.16,503.77C1849.16,502.58 1850.17,501.38 1851.18,500.16C1852.18,498.94 1853.19,497.72 1854.19,496.48C1855.20,495.24 1856.21,493.99 1857.21,492.72C1858.22,491.45 1859.23,490.16 1860.23,488.86C1861.24,487.56 1862.25,486.25 1863.25,484.91C1864.26,483.57 1865.26,482.22 1866.27,480.85C1867.28,479.47 1868.28,478.08 1869.29,476.66C1870.30,475.24 1871.30,473.80 1872.31,472.34C1873.32,470.88 1874.32,469.39 1875.33,467.88C1876.34,466.37 1877.34,464.84 1878.35,463.27C1879.35,461.71 1880.36,460.12 1881.37,458.50C1882.37,456.88 1883.38,455.23 1884.39,453.55C1885.39,451.87 1886.40,450.16 1887.41,448.42C1888.41,446.68 1889.42,444.91 1890.42,443.11C1891.43,441.31 1892.44,439.48 1893.44,437.63C1894.45,435.78 1895.46,433.90 1896.46,432.01C1897.47,430.12 1898.48,428.20 1899.48,426.27C1900.49,424.35 1901.49,422.40 1902.50,420.45C1903.51,418.49 1904.51,416.52 1905.52,414.55C1906.53,412.58 1907.53,410.59 1908.54,408.61C1909.55,406.63 1910.55,404.64 1911.56,402.65C1912.57,400.67 1913.57,398.68 1914.58,396.70C1915.58,394.72 1916.59,392.75 1917.60,390.78C1918.60,388.82 1919.61,386.86 1920.62,384.92C1921.62,382.97 1922.63,381.04 1923.64,379.13C1924.64,377.21 1925.65,375.32 1926.65,373.44C1927.66,371.56 1928.67,369.70 1929.67,367.86C1930.68,366.02 1931.69,364.19 1932.69,362.38C1933.70,360.57 1934.71,358.78 1935.71,357.00C1936.72,355.22 1937.73,353.46 1938.73,351.72C1939.74,349.97 1940.74,348.24 1941.75,346.52C1942.76,344.81 1943.76,343.11 1944.77,341.42C1945.78,339.73 1946.78,338.06 1947.79,336.40C1948.80,334.74 1949.80,333.10 1950.81,331.46C1951.81,329.83 1952.82,328.21 1953.83,326.60C1954.83,324.99 1955.84,323.40 1956.85,321.82C1957.85,320.23 1958.86,318.66 1959.87,317.10C1960.87,315.54 1961.88,313.99 1962.88,312.45C1963.89,310.91 1964.90,309.39 1965.90,307.87C1966.91,306.35 1967.92,304.84 1968.92,303.34C1969.93,301.84 1970.94,300.36 1971.94,298.87C1972.95,297.39 1973.96,295.92 1974.96,294.46C1975.97,293.00 1976.97,291.54 1977.98,290.09C1978.99,288.65 1979.99,287.21 1981.00,285.78C1982.01,284.35 1983.01,282.93 1984.02,281.52C1985.03,280.11 1986.03,278.70 1987.04,277.31C1988.04,275.92 1989.05,274.54 1990.06,273.17C1991.06,271.80 1992.07,270.44 1993.08,269.09C1994.08,267.75 1995.09,266.41 1996.10,265.08C1997.10,263.76 1998.11,262.45 1999.12,261.15C2000.12,259.85 2001.13,258.56 2002.13,257.29C2003.14,256.02 2004.15,254.76 2005.15,253.51C2006.16,252.27 2007.17,251.04 2008.17,249.82C2009.18,248.60 2010.19,247.40 2011.19,246.21C2012.20,245.03 2013.20,243.86 2014.21,242.70C2015.22,241.55 2016.22,240.40 2017.23,239.28C2018.24,238.15 2019.24,237.04 2020.25,235.94C2021.26,234.84 2022.26,233.76 2023.27,232.69C2024.27,231.62 2025.28,230.56 2026.29,229.52C2027.29,228.47 2028.30,227.44 2029.31,226.42C2030.31,225.40 2031.32,224.39 2032.33,223.39C2033.33,222.40 2034.34,221.41 2035.35,220.44C2036.35,219.46 2037.36,218.50 2038.36,217.55C2039.37,216.60 2040.38,215.65 2041.38,214.72C2042.39,213.79 2043.40,212.86 2044.40,211.95C2045.41,211.04 2046.42,210.13 2047.42,209.24C2048.43,208.34 2049.43,207.45 2050.44,206.57C2051.45,205.70 2052.45,204.83 2053.46,203.96C2054.47,203.10 2055.47,202.25 2056.48,201.40C2057.49,200.55 2058.49,199.72 2059.50,198.88C2060.51,198.05 2061.51,197.23 2062.52,196.41C2063.52,195.60 2064.53,194.79 2065.54,193.98C2066.54,193.18 2067.55,192.38 2068.56,191.59C2069.56,190.80 2070.57,190.02 2071.58,189.24C2072.58,188.46 2073.59,187.69 2074.59,186.92C2075.60,186.16 2076.61,185.40 2077.61,184.64C2078.62,183.88 2079.63,183.13 2080.63,182.39C2081.64,181.64 2082.65,180.90 2083.65,180.16C2084.66,179.43 2085.66,178.69 2086.67,177.97C2087.68,177.24 2088.68,176.51 2089.69,175.79C2090.70,175.07 2091.70,174.36 2092.71,173.64C2093.72,172.93 2094.72,172.22 2095.73,171.51C2096.74,170.80 2097.74,170.10 2098.75,169.40C2099.75,168.70 2100.76,168.00 2101.77,167.30C2102.77,166.61 2103.78,165.92 2104.79,165.23C2105.79,164.54 2106.80,163.86 2107.81,163.17C2108.81,162.49 2109.82,161.82 2110.82,161.14C2111.83,160.47 2112.84,159.80 2113.84,159.13C2114.85,158.47 2115.86,157.81 2116.86,157.15C2117.87,156.49 2118.88,155.84 2119.88,155.20C2120.89,154.55 2121.89,153.91 2122.90,153.27C2123.91,152.63 2124.91,152.00 2125.92,151.38C2126.93,150.75 2127.93,150.13 2128.94,149.51C2129.95,148.90 2130.95,148.29 2131.96,147.68C2132.97,147.08 2133.97,146.48 2134.98,145.89C2135.98,145.30 2136.99,144.72 2138.00,144.14C2139.00,143.56 2140.01,142.99 2141.02,142.42C2142.02,141.86 2143.03,141.30 2144.04,140.75C2145.04,140.20 2146.05,139.65 2147.05,139.11C2148.06,138.58 2149.07,138.05 2150.07,137.53C2151.08,137.00 2152.09,136.49 2153.09,135.98C2154.10,135.48 2155.11,134.98 2156.11,134.49C2157.12,134.00 2158.13,133.52 2159.13,133.04C2160.14,132.57 2161.14,132.10 2162.15,131.65C2163.16,131.19 2164.16,130.74 2165.17,130.31C2166.18,129.87 2167.18,129.44 2168.19,129.02C2169.20,128.60 2170.20,128.19 2171.21,127.78C2172.21,127.38 2173.22,126.99 2174.23,126.61C2175.23,126.23 2176.24,125.86 2177.25,125.49C2178.25,125.13 2179.26,124.78 2180.27,124.44C2181.27,124.10 2182.28,123.77 2183.28,123.45C2184.29,123.13 2185.30,122.82 2186.30,122.52C2187.31,122.22 2188.32,121.93 2189.32,121.66C2190.33,121.38 2191.34,121.12 2192.34,120.86C2193.35,120.61 2194.36,120.37 2195.36,120.14C2196.37,119.91 2197.37,119.69 2198.38,119.48C2199.39,119.28 2200.90,119.00 2201.40,118.90" fill="none" stroke="#0000f5" stroke-width="5.0" stroke-linejoin="round"/>
<g transform="translate(1760.40,906.60) scale(0.947,1)"><text class="lb" text-anchor="middle">Period (s)</text></g>
<g transform="translate(1230.30,450.70) rotate(-90) scale(0.96,1)"><text class="lb" text-anchor="middle">Ratio (Hard-rock / Standard-rock)</text></g>
<text x="595.6" y="998.5" class="cp" style="font-size:30.2px;stroke-width:0.9px">(</text>
<text x="608.2" y="1003" class="cp" style="font-size:35.5px;stroke-width:1.2px" textLength="16.6" lengthAdjust="spacingAndGlyphs">a</text>
<text x="629.2" y="998.5" class="cp" style="font-size:30.2px;stroke-width:0.9px">)</text>
<text x="1702.5" y="998.5" class="cp" style="font-size:30.2px;stroke-width:0.9px">(</text>
<text x="1715.6" y="1002.8" class="cp" style="font-size:35px;stroke-width:1.2px" textLength="18.6" lengthAdjust="spacingAndGlyphs">b</text>
<text x="1738.1" y="998.5" class="cp" style="font-size:30.2px;stroke-width:0.9px">)</text>
</svg></body></html>
